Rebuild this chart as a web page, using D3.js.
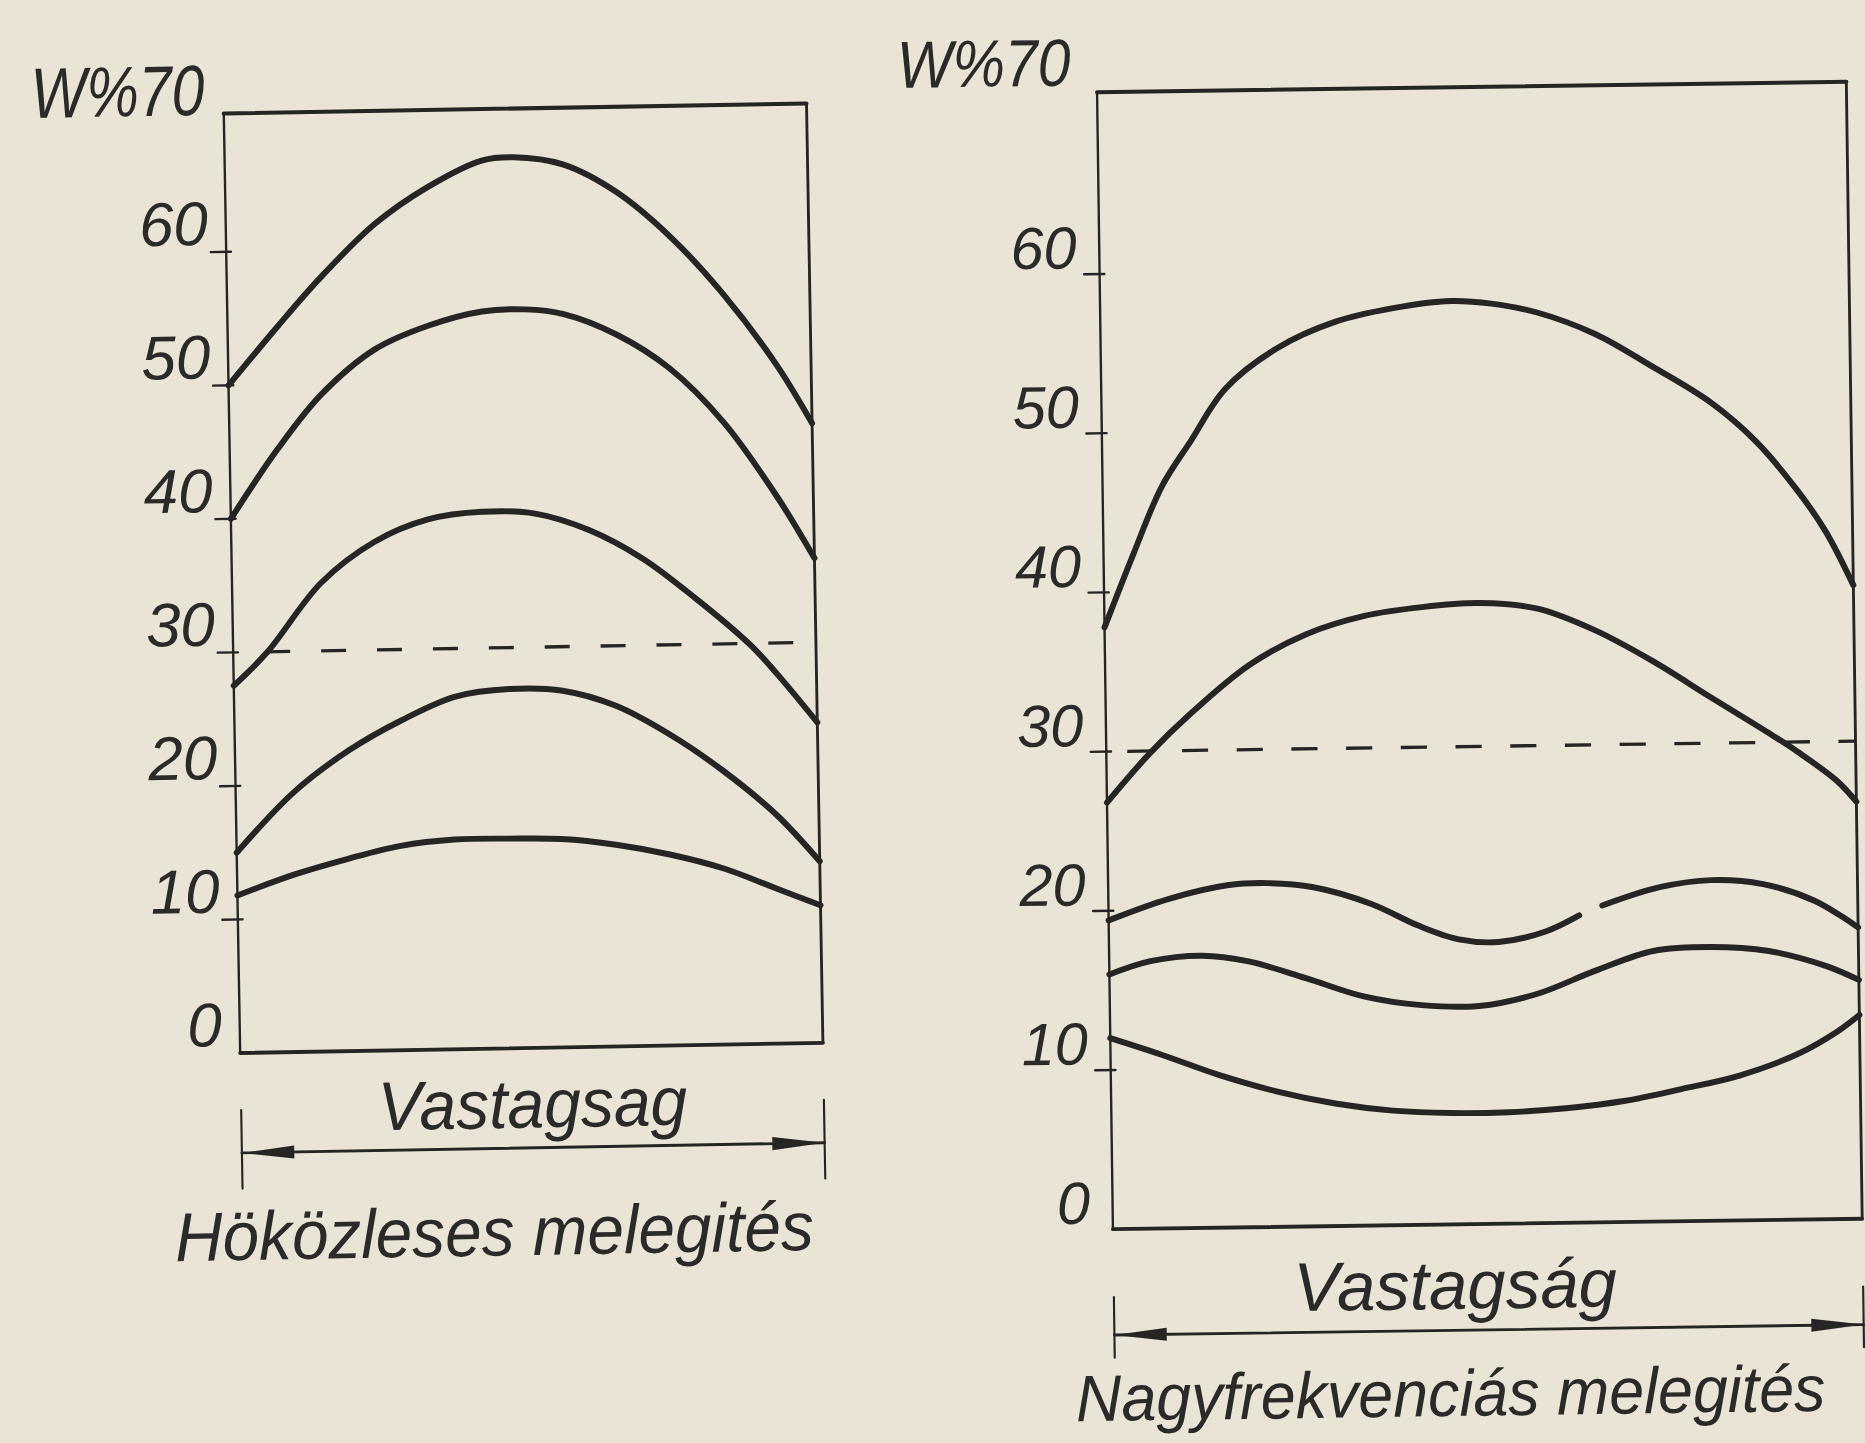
<!DOCTYPE html>
<html>
<head>
<meta charset="utf-8">
<script src="https://cdn.jsdelivr.net/npm/d3@7"></script>
<style>
  html, body { margin: 0; padding: 0; background: #e9e4d6; }
  svg { display: block; }
  text { font-family: "Liberation Sans", Arial, sans-serif; font-style: italic; fill: #2b2a2a; }
</style>
</head>
<body>
<svg id="chart"></svg>
<script>
// axis ticks and the dashed reference level (W %)
const yTicks = [0, 10, 20, 30, 40, 50, 60]
const topLabel = 'W%70'
const dashedLevel = 30

// x = position across the thickness (0 = one face, 1 = other face), y = W %
// left: Hőközléses melegítés
const leftTitle = 'H\u00f6k\u00f6zleses melegit\u00e9s'
const leftAxisTitle = 'Vastagsag'
const hk1 = [[0,50.0],[0.087,54.4],[0.162,58.0],[0.256,61.9],[0.348,64.6],[0.441,66.5],[0.496,66.7],[0.58,66.1],[0.67,64.0],[0.761,60.6],[0.851,56.2],[0.941,50.8],[1,46.4]]
const hk2 = [[0,40.0],[0.083,45.2],[0.159,49.2],[0.252,52.5],[0.344,54.2],[0.437,55.2],[0.511,55.3],[0.577,54.9],[0.667,53.3],[0.757,50.7],[0.848,46.6],[0.937,41.0],[1,36.3]]
const hk3 = [[0,27.5],[0.059,30.0],[0.153,35.1],[0.246,38.1],[0.338,39.7],[0.431,40.2],[0.522,40.0],[0.614,38.7],[0.705,36.5],[0.796,33.4],[0.887,29.9],[0.932,27.7],[1,24.0]]
const hk4 = [[0,15.0],[0.101,19.5],[0.195,22.5],[0.287,24.7],[0.38,26.4],[0.472,26.9],[0.564,26.7],[0.655,25.5],[0.746,23.3],[0.837,20.5],[0.928,17.1],[1,13.6]]
const hk5 = [[0,11.8],[0.099,13.3],[0.191,14.4],[0.282,15.3],[0.374,15.7],[0.466,15.7],[0.558,15.6],[0.651,15.1],[0.743,14.3],[0.834,13.2],[0.926,11.6],[1,10.3]]

// right: Nagyfrekvenciás melegítés
const rightTitle = 'Nagyfrekvenci\u00e1s melegit\u00e9s'
const rightAxisTitle = 'Vastags\u00e1g'
const nf1 = [[0,37.8],[0.04,42.4],[0.079,46.6],[0.118,49.4],[0.166,52.7],[0.236,55.2],[0.314,56.8],[0.391,57.6],[0.468,58.0],[0.522,57.8],[0.583,57.2],[0.66,55.8],[0.736,53.7],[0.813,51.4],[0.873,48.9],[0.927,45.8],[0.964,43.2],[1,39.8]]
const nf2 = [[0,26.8],[0.059,29.9],[0.113,32.3],[0.192,35.3],[0.269,37.2],[0.347,38.3],[0.424,38.8],[0.501,39.0],[0.578,38.6],[0.654,37.2],[0.731,35.2],[0.807,32.9],[0.884,30.6],[0.922,29.4],[0.975,27.5],[1,26.2]]
const nf3 = [[0,19.4],[0.081,20.7],[0.159,21.5],[0.213,21.6],[0.274,21.3],[0.351,20.2],[0.413,18.8],[0.467,17.9],[0.52,17.7],[0.582,18.3],[0.628,19.3],[0.643,null],[0.659,19.9],[0.736,21.0],[0.805,21.4],[0.874,21.1],[0.943,20.0],[1,18.3]]
const nf4 = [[0,16.0],[0.055,16.8],[0.124,17.1],[0.186,16.7],[0.262,15.6],[0.339,14.4],[0.416,13.8],[0.493,13.7],[0.57,14.4],[0.648,15.8],[0.726,17.0],[0.803,17.2],[0.88,16.9],[0.957,15.9],[1,15.0]]
const nf5 = [[0,12.0],[0.069,10.9],[0.144,9.6],[0.222,8.5],[0.299,7.7],[0.376,7.2],[0.453,7.0],[0.531,7.0],[0.607,7.2],[0.684,7.6],[0.761,8.3],[0.839,9.1],[0.917,10.4],[0.971,11.8],[1,12.8]]

const ink = '#262525'
const svg = d3.select('#chart')
  .attr('width', 1865).attr('height', 1443)
  .attr('viewBox', '0 0 1568 1213')

svg.append('rect').attr('width', 1568).attr('height', 1213).attr('fill', '#e9e4d6')

function panel (cfg, series) {
  const x = d3.scaleLinear().domain([0, 1]).range([cfg.x0, cfg.x1])
  const y = d3.scaleLinear().domain([0, 70]).range([cfg.yb, cfg.yt])
  const g = svg.append('g')
    .attr('transform', `rotate(${cfg.angle},${cfg.cx},${cfg.cy})`)
    .attr('stroke-linecap', 'round')

  const ft = y(cfg.frameTop)
  // frame: top, left axis, right side, bottom
  g.append('line').attr('x1', x(0)).attr('x2', x(1)).attr('y1', ft).attr('y2', ft)
    .attr('stroke', ink).attr('stroke-width', 3.4)
  g.append('line').attr('x1', x(0)).attr('x2', x(0)).attr('y1', ft).attr('y2', y(0))
    .attr('stroke', ink).attr('stroke-width', 2)
  g.append('line').attr('x1', x(1)).attr('x2', x(1)).attr('y1', ft).attr('y2', y(0))
    .attr('stroke', ink).attr('stroke-width', 2.4)
  g.append('line').attr('x1', x(0)).attr('x2', x(1)).attr('y1', y(0)).attr('y2', y(0))
    .attr('stroke', ink).attr('stroke-width', 3.2)

  // ticks on the left axis
  g.selectAll('line.tick').data(yTicks.filter(v => v > 0)).join('line')
    .attr('class', 'tick')
    .attr('x1', x(0) - 13).attr('x2', x(0) + 4)
    .attr('y1', d => y(d)).attr('y2', d => y(d))
    .attr('stroke', ink).attr('stroke-width', 2)

  g.selectAll('text.tl').data(yTicks).join('text')
    .attr('class', 'tl')
    .attr('x', x(0) - cfg.lblDx)
    .attr('y', d => y(d) - cfg.lblDy)
    .attr('text-anchor', 'end')
    .attr('font-size', cfg.lblSize)
    .text(d => d)

  g.append('text')
    .attr('x', x(0) - cfg.topDx).attr('y', y(70) - cfg.topDy)
    .attr('text-anchor', 'end')
    .attr('font-size', cfg.topSize)
    .attr('textLength', 146).attr('lengthAdjust', 'spacingAndGlyphs')
    .text(topLabel)

  // dashed 30 % level
  g.append('line')
    .attr('x1', x(cfg.dashFrom)).attr('x2', x(cfg.dashTo))
    .attr('y1', y(dashedLevel)).attr('y2', y(dashedLevel))
    .attr('stroke', ink).attr('stroke-width', 2.8)
    .attr('stroke-linecap', 'butt')
    .attr('stroke-dasharray', cfg.dash)

  const line = d3.line()
    .defined(d => d[1] != null)
    .x(d => x(d[0])).y(d => y(d[1]))
    .curve(d3.curveCatmullRom.alpha(0.5))

  g.selectAll('path.curve').data(series).join('path')
    .attr('class', 'curve')
    .attr('d', line)
    .attr('fill', 'none')
    .attr('stroke', ink)
    .attr('stroke-width', 5)

  // thickness dimension line with arrows
  const dy = y(0) + cfg.dimDy
  ;[0, 1].forEach(v => {
    g.append('line').attr('x1', x(v)).attr('x2', x(v))
      .attr('y1', y(0) + cfg.extFrom).attr('y2', y(0) + cfg.extTo)
      .attr('stroke', ink).attr('stroke-width', 1.8)
  })
  g.append('line').attr('x1', x(0)).attr('x2', x(1)).attr('y1', dy).attr('y2', dy)
    .attr('stroke', ink).attr('stroke-width', 2.4)
  const arrow = (tip, dir) => {
    const p = d3.path()
    p.moveTo(tip, dy)
    p.lineTo(tip + dir * 44, dy - 5.5)
    p.lineTo(tip + dir * 44, dy + 5.5)
    p.closePath()
    return p.toString()
  }
  g.append('path').attr('d', arrow(x(0), 1)).attr('fill', ink)
  g.append('path').attr('d', arrow(x(1), -1)).attr('fill', ink)

  g.append('text')
    .attr('x', x(0.5) + cfg.axDx).attr('y', y(0) + cfg.axDy)
    .attr('text-anchor', 'middle')
    .attr('font-size', 58)
    .attr('textLength', cfg.axLen).attr('lengthAdjust', 'spacingAndGlyphs')
    .text(cfg.axisTitle)

  g.append('text')
    .attr('x', x(0.5) + cfg.capDx).attr('y', y(0) + cfg.capDy)
    .attr('text-anchor', 'middle')
    .attr('font-size', cfg.capSize)
    .attr('textLength', cfg.capLen).attr('lengthAdjust', 'spacingAndGlyphs')
    .text(cfg.title)
}

panel({
  cx: 440, cy: 486, angle: -1,
  x0: 195, x1: 685, yb: 881, yt: 95, frameTop: 70.35,
  lblDx: 15, lblDy: 6, lblSize: 52,
  topDx: 16, topDy: 3, topSize: 60,
  dashFrom: 0.055, dashTo: 0.986, dash: '21,26',
  dimDy: 84, extFrom: 48, extTo: 114,
  axisTitle: leftAxisTitle, axDx: 0, axDy: 67, axLen: 260,
  title: leftTitle, capDx: -34, capDy: 174, capLen: 537, capSize: 58
}, [hk1, hk2, hk3, hk4, hk5])

panel({
  cx: 1244, cy: 551, angle: -0.8,
  x0: 929, x1: 1559, yb: 1029, yt: 92, frameTop: 71.42,
  lblDx: 19, lblDy: 5, lblSize: 50,
  topDx: 22, topDy: 25, topSize: 56,
  dashFrom: 0.028, dashTo: 1, dash: '22,24',
  dimDy: 89, extFrom: 57, extTo: 108,
  axisTitle: rightAxisTitle, axDx: -28, axDy: 71, axLen: 272,
  title: rightTitle, capDx: -33, capDy: 161, capLen: 630, capSize: 55
}, [nf1, nf2, nf3, nf4, nf5])
</script>
</body>
</html>
